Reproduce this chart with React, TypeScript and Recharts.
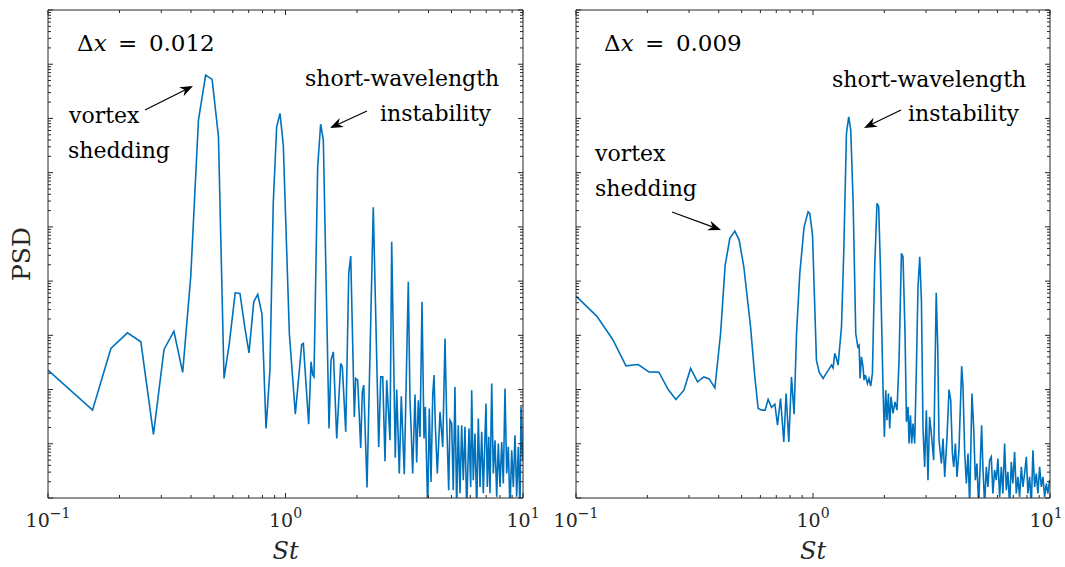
import React from "react";
import { LineChart, Line, XAxis, YAxis, Label } from "recharts";

// ---------- data ----------
const leftSt = [
  0.100, 0.154, 0.184, 0.216, 0.246, 0.278, 0.308, 0.339, 0.369, 0.399,
  0.430, 0.461, 0.491, 0.522, 0.551, 0.580, 0.614, 0.643, 0.675, 0.702,
  0.735, 0.764, 0.796, 0.828, 0.860, 0.888, 0.918, 0.948, 0.979, 1.038,
  1.100, 1.170, 1.189, 1.252, 1.281, 1.302, 1.318, 1.366, 1.406, 1.443,
  1.525, 1.555, 1.590, 1.643, 1.708, 1.735, 1.793, 1.846, 1.882, 1.949,
  1.975, 2.014, 2.073, 2.106, 2.135, 2.204, 2.342, 2.469, 2.517, 2.567,
  2.624, 2.668, 2.754, 2.800, 2.899, 2.939, 3.014, 3.073, 3.163, 3.289,
  3.343, 3.376, 3.432, 3.510, 3.567, 3.624, 3.684, 3.756, 3.830, 3.878,
  3.969, 4.032, 4.099, 4.168, 4.221, 4.274, 4.358, 4.473, 4.592, 4.695,
  4.772, 4.866, 4.927, 5.008, 5.086, 5.170, 5.256, 5.339, 5.427, 5.518,
  5.604, 5.697, 5.792, 5.923, 6.022, 6.081, 6.175, 6.278, 6.383, 6.484,
  6.592, 6.702, 6.806, 6.918, 6.986, 7.075, 7.172, 7.263, 7.383, 7.498,
  7.623, 7.749, 7.871, 8.002, 8.134, 8.262, 8.398, 8.538, 8.671, 8.816,
  8.962, 9.103, 9.253, 9.408, 9.554, 9.714, 9.808, 9.970,
];
const leftPsd = [
  2.28e-7, 4.17e-8, 5.73e-7, 1.11e-6, 7.59e-7, 1.49e-8, 5.5e-7, 1.19e-6, 2.07e-7, 1.2e-5,
  9.34e-3, 6.32e-2, 5.26e-2, 4.59e-3, 1.6e-7, 7.08e-7, 6.08e-6, 5.93e-6, 1.34e-6, 4.75e-7,
  4.15e-6, 5.69e-6, 2.46e-6, 1.91e-8, 2.28e-7, 2.72e-4, 7.03e-3, 1.24e-2, 3.23e-3, 1.08e-6,
  3.52e-8, 6.79e-7, 7.08e-7, 2.3e-8, 3.24e-7, 1.85e-7, 1.71e-7, 1.28e-3, 7.88e-3, 3.99e-3,
  1.91e-8, 3.49e-7, 4.96e-7, 1.25e-8, 3.03e-7, 2.62e-7, 1.66e-8, 1.39e-5, 2.89e-5, 3.13e-8,
  1.6e-7, 1.49e-7, 8.4e-9, 9.08e-8, 1.21e-7, 1.56e-9, 2.29e-4, 8.77e-9, 1.71e-7, 1.71e-7,
  4.78e-9, 1.49e-7, 1.16e-8, 5.31e-5, 5.5e-9, 1.0e-7, 2.83e-9, 7.55e-8, 2.75e-9, 9.7e-6,
  6.37e-8, 2.2e-8, 2.83e-9, 8.12e-8, 4.52e-9, 6.37e-8, 1.34e-8, 4.15e-6, 1.25e-8, 4.8e-8,
  5.96e-10, 4.48e-8, 1.98e-9, 7.88e-8, 1.85e-7, 2.2e-8, 2.83e-9, 3.88e-8, 8.77e-9, 8.77e-7,
  2.72e-8, 1.39e-9, 2.72e-8, 2.4e-8, 1.39e-9, 1.12e-7, 5.96e-10, 2.2e-8, 1.23e-9, 2.2e-8,
  2.13e-9, 2.05e-8, 5.96e-10, 1.91e-8, 1.6e-9, 9.75e-8, 2.13e-9, 1.55e-8, 5.96e-10, 2.93e-8,
  1.6e-9, 1.66e-8, 1.23e-9, 1.34e-8, 5.54e-8, 1.6e-9, 1.34e-8, 1.23e-9, 1.29e-7, 2.83e-9,
  1.16e-8, 1.05e-9, 1.01e-8, 1.6e-9, 1.08e-8, 1.85e-9, 1.05e-7, 2.83e-9, 8.77e-9, 5.96e-10,
  7.62e-9, 1.6e-9, 1.44e-8, 1.05e-9, 8.77e-9, 5.96e-10, 4.8e-8, 4.98e-9,
];

const rightSt = [
  0.100, 0.1223, 0.1429, 0.1625, 0.1831, 0.2031, 0.2238, 0.2449, 0.2640, 0.2853,
  0.3044, 0.3258, 0.3464, 0.3648, 0.3855, 0.4074, 0.4260, 0.4458, 0.4680, 0.4880,
  0.5106, 0.5451, 0.5683, 0.5869, 0.6083, 0.6281, 0.6466, 0.6683, 0.6902, 0.7084,
  0.7294, 0.7530, 0.7700, 0.7904, 0.8113, 0.8322, 0.8520, 0.8796, 0.9172, 0.9535,
  0.9694, 0.9953, 1.034, 1.061, 1.103, 1.140, 1.166, 1.197, 1.215, 1.236,
  1.256, 1.276, 1.319, 1.349, 1.384, 1.415, 1.443, 1.476, 1.515, 1.545,
  1.565, 1.580, 1.601, 1.626, 1.642, 1.664, 1.697, 1.723, 1.752, 1.781,
  1.821, 1.862, 1.893, 1.925, 1.974, 2.001, 2.027, 2.053, 2.081, 2.107,
  2.134, 2.176, 2.218, 2.262, 2.307, 2.361, 2.398, 2.445, 2.479, 2.518,
  2.542, 2.577, 2.609, 2.642, 2.686, 2.731, 2.774, 2.820, 2.867, 2.912,
  2.959, 3.008, 3.055, 3.105, 3.157, 3.229, 3.311, 3.359, 3.402, 3.482,
  3.537, 3.596, 3.677, 3.749, 3.811, 3.874, 3.924, 3.989, 4.051, 4.130,
  4.239, 4.294, 4.365, 4.437, 4.508, 4.581, 4.685, 4.762, 4.841, 4.917,
  4.999, 5.081, 5.146, 5.211, 5.298, 5.386, 5.470, 5.561, 5.653, 5.741,
  5.840, 5.936, 6.030, 6.130, 6.231, 6.328, 6.434, 6.542, 6.643, 6.754,
  6.866, 6.973, 7.090, 7.208, 7.321, 7.442, 7.568, 7.686, 7.815, 7.945,
  8.069, 8.204, 8.341, 8.471, 8.612, 8.755, 8.892, 9.041, 9.191, 9.335,
  9.490, 9.647, 9.797, 9.961,
];
const rightPsd = [
  5.28e-6, 2.26e-6, 8.4e-7, 2.74e-7, 2.9e-7, 2.12e-7, 2.09e-7, 1.0e-7, 6.56e-8, 9.75e-8,
  2.45e-7, 1.39e-7, 1.71e-7, 1.57e-7, 1.07e-7, 1.08e-6, 1.97e-5, 6.14e-5, 8.37e-5, 5.71e-5,
  1.84e-5, 1.44e-6, 1.71e-7, 4.48e-8, 4.17e-8, 4.17e-8, 6.56e-8, 4.68e-8, 5.38e-8, 2.2e-8,
  6.85e-8, 1.08e-8, 8.47e-8, 1.08e-8, 1.71e-7, 3.52e-8, 1.08e-6, 1.39e-5, 1.0e-4, 1.9e-4,
  1.77e-4, 7.06e-5, 3.49e-7, 2.12e-7, 1.6e-7, 2.03e-7, 2.35e-7, 2.82e-7, 2.51e-7, 4.63e-7,
  3.75e-7, 2.82e-7, 1.44e-6, 3.73e-5, 5.31e-3, 1.07e-2, 6.11e-3, 3.12e-4, 1.08e-6, 6.14e-7,
  6.59e-7, 1.6e-7, 4.01e-7, 2.62e-7, 1.49e-7, 1.85e-7, 1.29e-7, 1.6e-7, 1.16e-7, 1.98e-7,
  1.84e-5, 2.72e-4, 2.35e-4, 1.84e-5, 1.12e-7, 1.34e-8, 9.75e-8, 2.72e-8, 8.47e-8, 1.91e-8,
  7.33e-8, 3.62e-8, 5.93e-8, 4.17e-8, 3.49e-7, 3.24e-5, 2.81e-5, 1.08e-6, 2.54e-8, 4.8e-8,
  1.01e-8, 3.37e-8, 1.01e-8, 2.37e-8, 1.01e-8, 2.62e-7, 7.85e-6, 2.81e-5, 4.46e-6, 1.91e-8,
  3.75e-9, 4.17e-8, 2.13e-9, 3.13e-8, 1.55e-8, 4.98e-9, 6.08e-6, 6.14e-7, 1.16e-8, 4.33e-9,
  1.25e-8, 2.45e-9, 1.34e-8, 1.0e-7, 6.37e-8, 6.62e-9, 3.75e-9, 1.01e-8, 2.45e-9, 7.62e-9,
  2.7e-7, 1.12e-7, 7.08e-9, 1.85e-9, 6.62e-9, 7.36e-10, 8.47e-8, 2.05e-8, 2.13e-9, 4.33e-9,
  7.36e-10, 4.63e-9, 2.2e-8, 3.75e-9, 7.36e-10, 3.75e-9, 1.6e-9, 4.98e-9, 5.73e-9, 1.21e-9,
  3.26e-9, 2.13e-9, 5.36e-9, 1.05e-9, 3.75e-9, 1.21e-9, 1.01e-8, 1.39e-9, 3.03e-9, 7.36e-10,
  4.63e-9, 1.85e-9, 7.08e-9, 1.21e-9, 2.45e-9, 1.05e-9, 3.75e-9, 1.6e-9, 2.83e-9, 5.73e-9,
  1.21e-9, 2.45e-9, 7.36e-10, 7.62e-9, 1.6e-9, 2.83e-9, 1.21e-9, 3.75e-9, 1.6e-9, 2.45e-9,
  1.05e-9, 1.85e-9, 1.21e-9, 2.13e-9,
];

const xTicks = [0.1, 0.2, 0.3, 0.4, 0.5, 0.6, 0.7, 0.8, 0.9, 1, 2, 3, 4, 5, 6, 7, 8, 9, 10];
const yDecades = [-9, -8, -7, -6, -5, -4, -3, -2, -1, 0];
const yMantissas = [1, 2, 3, 4, 5, 6, 7, 8, 9];
const panelLabels = ["0.012", "0.009"];

const yTicks: number[] = [];
yDecades.forEach((e) => {
  yMantissas.forEach((m) => {
    if (e === 0 && m > 1) return;
    yTicks.push(m * Math.pow(10, e));
  });
});

const leftData = leftSt.map((s, i) => ({ st: s, psd: leftPsd[i] }));
const rightData = rightSt.map((s, i) => ({ st: s, psd: rightPsd[i] }));

// ---------- styling ----------
const AX = "#262626";
const LINE = "#0072BD";
const SERIF = "'DejaVu Serif', serif";
const MAJ = 5;
const MIN = 3;

const isMajor = (v: number) => {
  const l = Math.log10(v);
  return Math.abs(l - Math.round(l)) < 1e-6;
};

const makeBottomTick = (lastShift: number) => (p: any) => {
  const { x, y, payload } = p;
  const v = payload.value;
  const major = isMajor(v);
  const e = Math.round(Math.log10(v));
  const tx = e === 1 ? x - lastShift : x;
  return (
    <g>
      <line x1={x} y1={y} x2={x} y2={y - (major ? MAJ : MIN)} stroke={AX} strokeWidth={1} />
      {major && (
        <text x={tx} y={y + 29} textAnchor="middle" fontFamily={SERIF} fontSize={19} fill={AX}>
          10
          <tspan dy={-9} fontSize={14}>{e < 0 ? "\u2212" + Math.abs(e) : String(e)}</tspan>
        </text>
      )}
    </g>
  );
};

const TopTick = (p: any) => {
  const { x, y, payload } = p;
  const major = isMajor(payload.value);
  return <line x1={x} y1={y} x2={x} y2={y + (major ? MAJ : MIN)} stroke={AX} strokeWidth={1} />;
};

const LeftTick = (p: any) => {
  const { x, y, payload } = p;
  const major = isMajor(payload.value);
  return <line x1={x} y1={y} x2={x + (major ? MAJ : MIN)} y2={y} stroke={AX} strokeWidth={1} />;
};

const RightTick = (p: any) => {
  const { x, y, payload } = p;
  const major = isMajor(payload.value);
  return <line x1={x} y1={y} x2={x - (major ? MAJ : MIN)} y2={y} stroke={AX} strokeWidth={1} />;
};

const StLabel = (p: any) => {
  const vb = p.viewBox || {};
  return (
    <text
      x={vb.x + vb.width / 2}
      y={vb.y + 61}
      textAnchor="middle"
      fontFamily={SERIF}
      fontStyle="italic"
      fontSize={24}
      fill={AX}
    >
      St
    </text>
  );
};

const PsdLabel = (p: any) => {
  const vb = p.viewBox || {};
  const cx = vb.x + 2;
  const cy = vb.y + vb.height / 2;
  return (
    <text
      x={cx}
      y={cy}
      transform={`rotate(-90, ${cx}, ${cy})`}
      textAnchor="middle"
      fontFamily={SERIF}
      fontSize={25}
      fill={AX}
    >
      PSD
    </text>
  );
};

type PanelProps = {
  data: { st: number; psd: number }[];
  width: number;
  margin: { top: number; right: number; bottom: number; left: number };
  showYLabel: boolean;
  lastShift: number;
};

const Panel = ({ data, width, margin, showYLabel, lastShift }: PanelProps) => (
  <LineChart width={width} height={567} data={data} margin={margin}>
    <XAxis
      xAxisId="b"
      dataKey="st"
      type="number"
      scale="log"
      domain={[0.1, 10]}
      allowDataOverflow
      ticks={xTicks}
      interval={0}
      tick={makeBottomTick(lastShift)}
      tickLine={false}
      tickSize={0}
      tickMargin={0}
      axisLine={{ stroke: AX, strokeWidth: 1 }}
      height={60}
      orientation="bottom"
    >
      <Label content={StLabel} />
    </XAxis>
    <XAxis
      xAxisId="t"
      dataKey="st"
      type="number"
      scale="log"
      domain={[0.1, 10]}
      allowDataOverflow
      ticks={xTicks}
      interval={0}
      tick={TopTick}
      tickLine={false}
      tickSize={0}
      tickMargin={0}
      axisLine={{ stroke: AX, strokeWidth: 1 }}
      height={10}
      orientation="top"
    />
    <YAxis
      yAxisId="l"
      type="number"
      scale="log"
      domain={[1e-9, 1]}
      allowDataOverflow
      ticks={yTicks}
      interval={0}
      tick={LeftTick}
      tickLine={false}
      tickSize={0}
      tickMargin={0}
      axisLine={{ stroke: AX, strokeWidth: 1 }}
      width={20}
      orientation="left"
    >
      {showYLabel && <Label content={PsdLabel} />}
    </YAxis>
    <YAxis
      yAxisId="r"
      type="number"
      scale="log"
      domain={[1e-9, 1]}
      allowDataOverflow
      ticks={yTicks}
      interval={0}
      tick={RightTick}
      tickLine={false}
      tickSize={0}
      tickMargin={0}
      axisLine={{ stroke: AX, strokeWidth: 1 }}
      width={10}
      orientation="right"
    />
    <Line
      xAxisId="b"
      yAxisId="l"
      type="linear"
      dataKey="psd"
      stroke={LINE}
      strokeWidth={1.6}
      dot={false}
      activeDot={false}
      isAnimationActive={false}
    />
  </LineChart>
);

const Arrow = ({ x1, y1, x2, y2 }: { x1: number; y1: number; x2: number; y2: number }) => {
  const dx = x2 - x1;
  const dy = y2 - y1;
  const len = Math.sqrt(dx * dx + dy * dy);
  const ux = dx / len;
  const uy = dy / len;
  const nx = -uy;
  const ny = ux;
  const L = 13;
  const W = 5;
  const N = 9;
  const pts = [
    [x2, y2],
    [x2 - L * ux + W * nx, y2 - L * uy + W * ny],
    [x2 - N * ux, y2 - N * uy],
    [x2 - L * ux - W * nx, y2 - L * uy - W * ny],
  ]
    .map((q) => q.join(","))
    .join(" ");
  return (
    <g>
      <line x1={x1} y1={y1} x2={x2 - N * ux} y2={y2 - N * uy} stroke="#000" strokeWidth={1.2} />
      <polygon points={pts} fill="#000" />
    </g>
  );
};

const T = (props: any) => (
  <text fontFamily={SERIF} fontSize={22} fill="#000" {...props} />
);

const DeltaLabel = ({ x, y, v }: { x: number; y: number; v: string }) => (
  <text x={x} y={y} fontFamily={SERIF} fontSize={23} fill="#000">
    Δ<tspan fontStyle="italic">x</tspan>
    <tspan>{"\u2002=\u2002" + v}</tspan>
  </text>
);

export default function App() {
  return (
    <div style={{ position: "absolute", left: 0, top: 0, width: 1065, height: 567, background: "#fff" }}>
      <div style={{ position: "absolute", left: 0, top: 0 }}>
        <Panel data={leftData} width={540} margin={{ top: 0, right: 7, bottom: 9, left: 28 }} showYLabel lastShift={0} />
      </div>
      <div style={{ position: "absolute", left: 540, top: 0 }}>
        <Panel data={rightData} width={525} margin={{ top: 0, right: 5, bottom: 9, left: 16 }} showYLabel={false} lastShift={4} />
      </div>
      <svg
        width={1065}
        height={567}
        style={{ position: "absolute", left: 0, top: 0, pointerEvents: "none" }}
      >
        <DeltaLabel x={77} y={51} v={panelLabels[0]} />
        <T x={69} y={123}>vortex</T>
        <T x={68} y={158}>shedding</T>
        <T x={305} y={86}>short-wavelength</T>
        <T x={380} y={121}>instability</T>
        <Arrow x1={145} y1={110} x2={193} y2={86} />
        <Arrow x1={367} y1={111} x2={330} y2={128} />

        <DeltaLabel x={604} y={51} v={panelLabels[1]} />
        <T x={595} y={161}>vortex</T>
        <T x={595} y={196}>shedding</T>
        <T x={832} y={87}>short-wavelength</T>
        <T x={908} y={121}>instability</T>
        <Arrow x1={672} y1={212} x2={721} y2={230} />
        <Arrow x1={901} y1={110} x2={864} y2={128} />
      </svg>
    </div>
  );
}
